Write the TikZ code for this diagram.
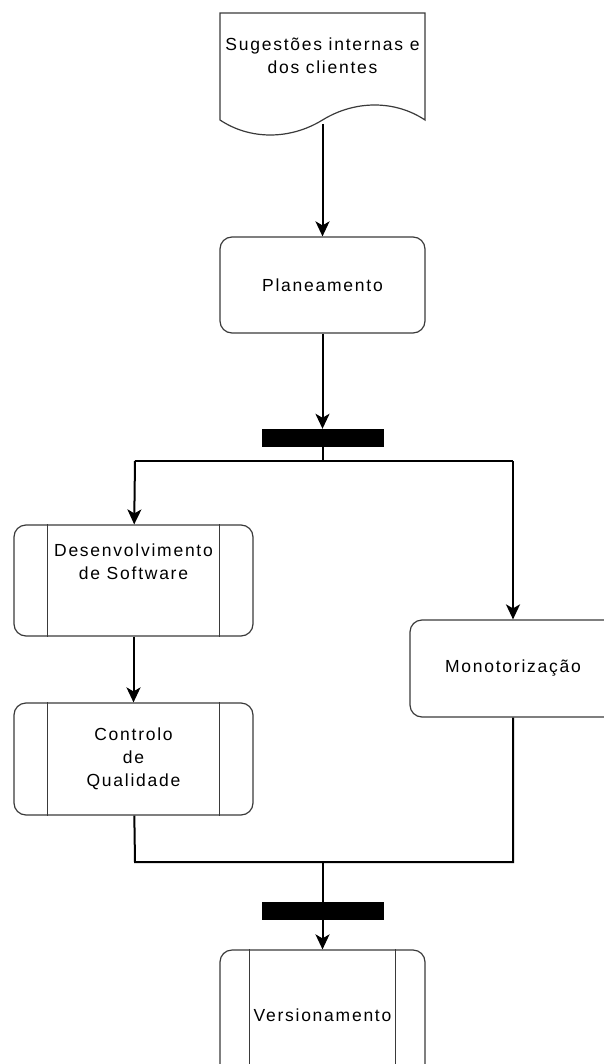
\documentclass[tikz,border=0pt]{standalone}
\usepackage{fontspec}
\setmainfont{Liberation Sans}[LetterSpace=10]
\usetikzlibrary{arrows.meta}
\definecolor{edge}{HTML}{3A3A3A}
\begin{document}
\begin{tikzpicture}[x=1pt,y=-1pt,
  font=\fontsize{17.5}{23}\selectfont,
  box/.style={draw=edge, line width=1.2pt, rounded corners=12pt, align=center, inner sep=0pt},
  bar/.style={fill=black, draw=black, minimum width=121pt, minimum height=17pt, inner sep=0pt},
  conn/.style={line width=2pt, -{Stealth[length=15pt,width=14pt,inset=4pt]}},
  wire/.style={line width=2pt}]
\useasboundingbox (0,0) rectangle (603,1064);

% input document with wavy bottom edge
\draw[edge, line width=1.2pt] (220,13) -- (425,13) -- (425,120)
  .. controls (395,100) and (355,100) .. (322.5,120)
  .. controls (290,140) and (250,140) .. (220,120) -- cycle;
\node[align=center] (doc) at (322.5,56) {Sugestões internas e\\dos clientes};
\coordinate (docb) at (322.5,124);

% process steps
\node[box, minimum width=205pt, minimum height=96pt] (plan) at (322.5,285) {Planeamento};
\node[bar] (fork) at (322.5,437.5) {};
\coordinate (fl) at (135,461);
\coordinate (fm) at (322.5,461);
\coordinate (fr) at (513,461);

\node[box, minimum width=239pt, minimum height=111pt] (dev) at (133.5,580.5)
  {Desenvolvimento\\de Software\\[14pt]};
\node[box, minimum width=239pt, minimum height=112pt] (ctrl) at (133.5,759)
  {Controlo\\de\\Qualidade};
\node[box, minimum width=206pt, minimum height=97pt] (mon) at (513,668.5) {Monotorização};

\coordinate (jl) at (135,862);
\coordinate (jm) at (322.5,862);
\coordinate (jr) at (513,862);
\node[box, minimum width=205pt, minimum height=130pt] (ver) at (322.5,1015) {Versionamento};

% subprocess side bars
\foreach \n/\d in {dev/34, ctrl/34, ver/30}{
  \draw[edge, line width=1.2pt] ([xshift=\d pt]\n.north west) -- ([xshift=\d pt]\n.south west);
  \draw[edge, line width=1.2pt] ([xshift=-\d pt]\n.north east) -- ([xshift=-\d pt]\n.south east);
}

% connectors
\draw[conn] (docb) -- (plan);
\draw[conn] (plan) -- (fork.north);
\draw[wire] (fork.south) -- (fm);
\draw[wire] (fl) -- (fr);
\draw[conn] (fl) -- (dev);
\draw[conn] (fr) -- (mon);
\draw[conn] (dev) -- (ctrl);
\draw[wire] (ctrl) -- (jl) -- (jr) -- (mon);
\draw[conn] (jm) -- (ver);
\node[bar] (join) at (322.5,911) {};
\end{tikzpicture}
\end{document}
